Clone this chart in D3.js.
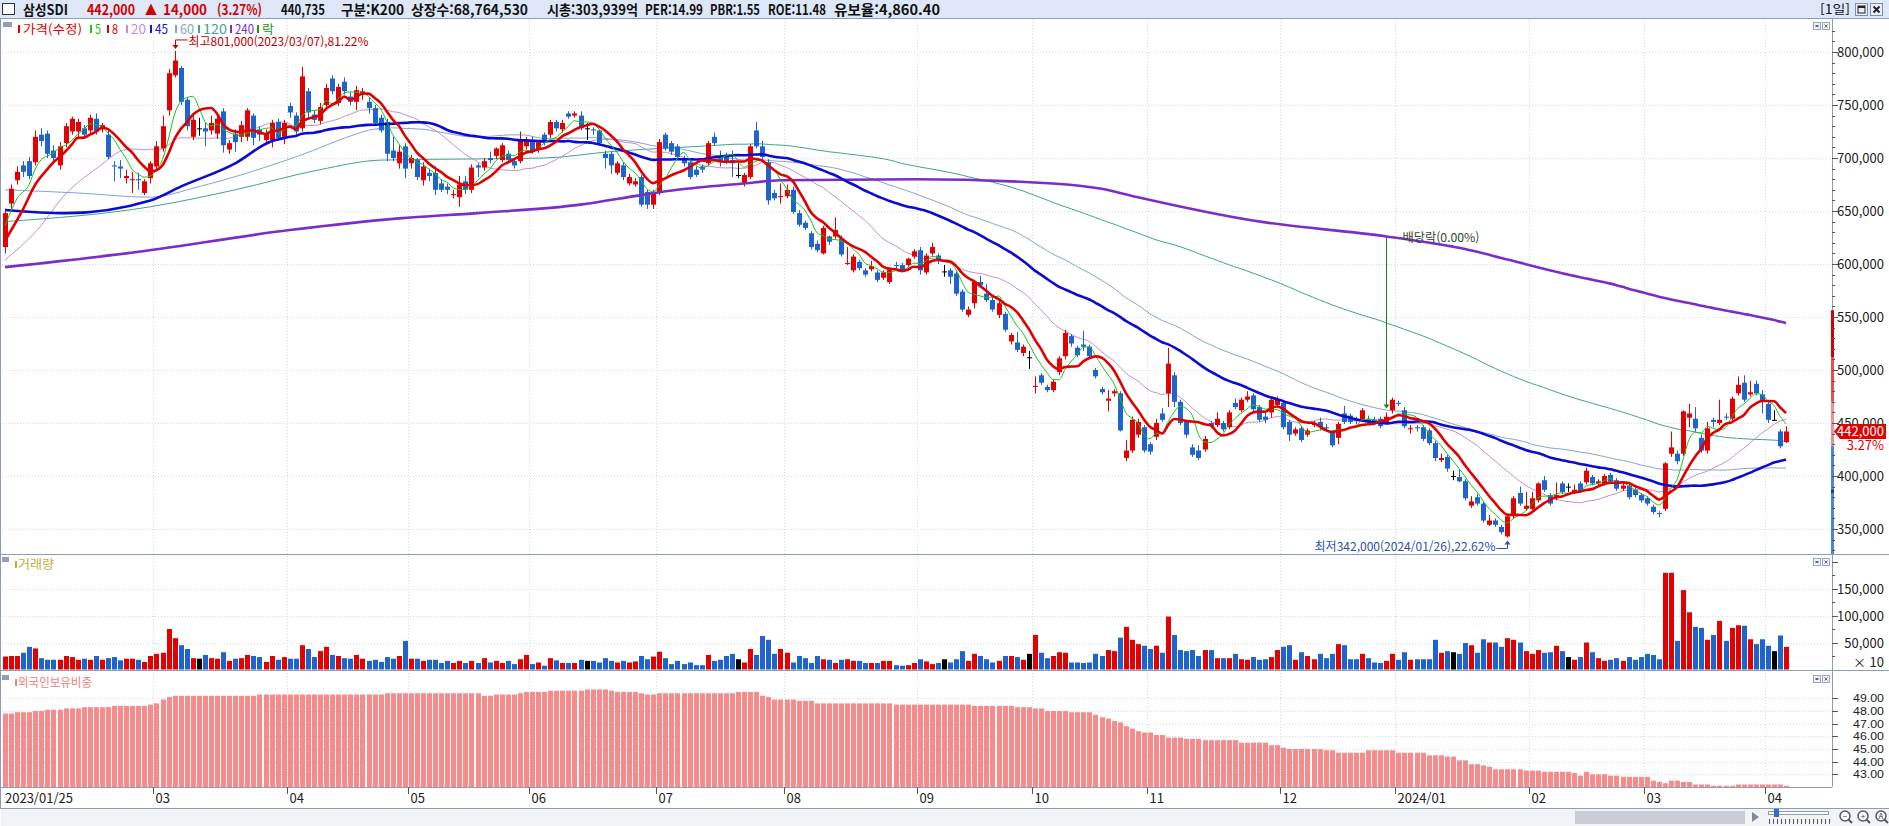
<!DOCTYPE html>
<html lang="ko">
<head>
<meta charset="UTF-8">
<title>삼성SDI 일봉</title>
<script src="https://cdn.jsdelivr.net/npm/d3@7/dist/d3.min.js"></script>
<style>
  html, body { margin: 0; padding: 0; background: #fff; overflow: hidden; }
  svg { display: block; font-family: "Noto Sans CJK KR", "Noto Sans", "DejaVu Sans", sans-serif; }
</style>
</head>
<body>
<svg id="chart" width="1889" height="826"></svg>
<script>
// ---------- data (prices in 1,000 KRW) ----------
const tickIdx    = [0, 25, 47, 67, 87, 108, 129, 151, 170, 189, 211, 230, 252, 271, 291];
const tickLabels = ["2023/01/25", "03", "04", "05", "06", "07", "08", "09", "10", "11", "12", "2024/01", "02", "03", "04"];

const opens = [
  616,657,679,693,697,696,722,723,707,693, 714,725,725,728,726,737,727,722,693,692,
  681,679,680,667,681,692,709,745,778,785, 755,720,728,728,726,723,744,708,723,720,
  720,740,727,717,717,734,720,749,740,728, 763,741,735,750,775,752,772,758,753,760,
  753,747,738,734,707,695,711,695,698,679, 686,686,676,673,665,663,678,670,693,691,
  700,702,698,704,697,697,711,717,708,722, 722,734,727,742,740,740,728,727,726,704,
  704,686,693,676,675,682,668,656,668,722, 714,711,700,696,689,692,695,720,701,702,
  698,684,676,682,726,711,696,667,663,664, 670,648,639,629,619,610,626,626,624,600,
  594,602,594,595,592,587,583,599,599,599, 607,613,592,610,608,593,594,591,574,552,
  563,583,572,566,552,553,527,526,516,512, 484,495,484,481,498,513,532,521,524,522,
  500,482,471,478,478,417,424,439,446,430, 437,459,478,495,470,451,427,424,425,450,
  448,450,446,469,462,472,476,465,456,460, 467,469,451,440,445,439,448,451,446,441,
  436,459,457,453,453,454,453,454,451,462, 469,462,444,446,446,443,431,415,418,400,
  399,395,372,380,374,354,358,352,343,362, 384,369,369,377,396,382,379,393,390,385,
  393,394,399,393,393,401,396,388,391,387, 382,379,371,365,369,421,421,421,455,454,
  436,424,453,450,456,454,478,488,477,487, 477,468,453,442,432
];
const highs = [
  652,675,692,697,701,726,728,726,712,715, 733,739,737,731,741,742,733,726,697,698,
  689,687,686,680,697,716,740,784,801,787, 757,741,738,733,740,740,747,717,727,735,
  747,742,730,727,736,737,736,752,743,786, 766,745,752,770,778,770,776,762,768,766,
  757,750,741,737,720,712,714,703,700,696, 690,692,680,676,670,683,683,694,695,700,
  706,710,714,707,700,725,720,720,717,724, 736,736,736,744,744,744,733,729,727,707,
  706,697,696,685,681,684,670,670,718,724, 716,713,702,698,692,694,716,724,707,705,
  707,695,686,713,734,716,699,670,676,675, 673,651,641,631,622,636,627,644,627,616,
  609,604,596,603,594,594,597,602,601,606, 614,616,610,620,610,599,596,593,576,560,
  585,589,581,568,565,555,535,536,524,518, 494,497,486,491,513,538,534,523,537,524,
  502,484,481,482,480,434,456,454,448,432, 454,464,521,498,472,453,430,429,438,452,
  460,452,462,473,474,480,478,467,460,474, 475,471,453,446,447,445,452,455,449,443,
  451,466,459,456,464,457,456,456,460,474, 471,465,448,448,448,445,433,421,420,405,
  406,397,381,383,376,363,360,354,363,381, 390,385,385,394,400,384,394,395,393,392,
  395,408,401,397,402,403,398,393,393,389, 384,381,373,367,413,442,424,462,468,465,
  439,451,455,472,459,475,494,495,490,490, 481,470,462,444,447
];
const lows = [
  610,650,675,682,680,693,711,700,697,689, 710,722,720,718,722,722,724,699,678,681,
  676,667,670,665,676,689,706,740,776,750, 726,717,721,711,722,718,705,704,706,715,
  716,712,716,713,710,716,713,738,720,725, 738,733,732,745,760,749,760,750,745,755,
  742,730,724,697,697,690,681,690,679,674, 678,665,668,666,662,654,666,667,682,688,
  695,699,696,696,690,695,708,704,705,712, 719,725,724,737,738,726,717,722,712,690,
  685,684,679,674,673,654,652,652,665,707, 703,698,692,680,682,686,693,712,692,694,
  682,681,673,680,709,698,656,660,657,662, 647,635,632,614,611,609,618,624,607,599,
  592,594,588,593,583,585,581,596,592,597, 605,590,590,608,600,588,581,570,555,550,
  558,578,564,555,549,536,524,517,513,501, 478,486,479,479,495,510,522,512,518,511,
  492,477,461,475,442,414,422,436,422,420, 434,451,465,465,448,436,418,415,423,445,
  446,442,444,463,460,470,460,451,450,455, 465,444,433,438,432,437,446,443,442,427,
  430,449,449,449,451,449,448,445,449,459, 466,445,440,442,433,429,414,413,404,396,
  394,377,370,372,356,353,352,345,342,360, 372,367,367,375,385,372,377,383,385,383,
  384,392,391,391,391,393,386,386,378,380, 375,372,364,361,367,418,411,419,446,442,
  422,421,446,448,453,452,476,470,475,476, 459,450,452,426,431
];
const closes = [
  648,671,687,687,683,720,716,704,700,711, 730,737,734,722,738,725,731,701,692,690,
  683,680,679,678,695,711,730,780,792,753, 730,736,728,725,733,737,712,714,715,731,
  745,719,722,723,733,719,733,743,725,777, 743,736,748,766,763,767,763,753,764,763,
  747,733,726,704,700,706,690,700,682,692, 683,670,670,670,666,675,670,691,691,697,
  698,709,712,698,693,717,717,706,715,715, 734,728,733,739,742,728,728,726,714,700,
  693,695,682,682,678,656,656,668,715,709, 706,701,695,682,684,689,714,714,697,697,
  695,684,684,711,711,701,660,662,664,670, 649,637,634,616,613,634,621,632,609,601,
  607,596,590,598,585,592,595,598,594,605, 612,594,608,616,603,593,588,572,557,557,
  583,580,566,557,563,538,533,519,522,512, 485,488,481,489,511,535,525,514,522,513,
  494,479,473,480,443,424,453,451,424,423, 450,453,506,470,450,439,420,417,435,447,
  454,444,460,465,472,475,463,453,453,472, 472,446,439,444,434,443,450,446,445,429,
  449,451,451,452,462,451,450,447,456,472, 468,447,445,445,435,431,417,417,407,400,
  395,379,376,374,358,358,354,347,362,379, 374,372,379,393,387,374,382,385,390,387,
  385,405,393,395,400,395,388,391,380,382, 377,374,366,364,412,427,414,461,459,445,
  424,445,451,453,455,473,486,472,479,478, 470,453,453,428,442
];
// volume, in thousands of the axis unit (axis shows x10 shares)
const volumes = [
  24,25,25,31,42,39,21,18,18,18, 25,23,18,20,18,25,18,21,23,17,
  20,20,18,14,25,29,31,75,58,45, 38,21,20,27,21,20,32,16,20,21,
  27,25,23,14,25,18,23,20,20,45, 38,23,34,42,27,25,21,20,27,20,
  16,18,14,23,20,25,53,20,20,16, 18,18,12,16,12,16,12,16,12,21,
  13,16,12,16,10,19,27,10,13,7,  21,17,12,12,12,18,16,16,13,21,
  16,13,16,13,15,25,19,24,33,21, 10,16,10,13,8,8,27,16,18,25,
  29,19,13,38,27,62,55,29,38,31, 13,25,21,12,25,19,18,12,18,19,
  16,16,12,12,12,16,16,8,7,8,    12,19,15,10,12,19,13,19,34,16,
  29,25,19,13,16,25,25,23,18,29, 64,31,21,25,32,31,13,13,12,13,
  29,25,36,34,59,79,55,47,44,38, 44,31,98,64,36,34,36,25,36,36,
  21,21,21,29,19,18,23,18,19,23, 36,42,45,18,32,25,19,29,21,29,
  47,45,19,19,29,21,13,12,16,29, 18,32,18,19,19,19,55,31,34,32,
  29,49,45,31,56,50,50,42,58,55, 50,34,29,36,31,32,44,34,23,18,
  23,50,32,21,16,18,21,16,23,18, 23,29,27,19,179,179,53,147,106,79,
  77,55,64,90,53,77,82,81,56,47, 56,44,34,63,42
];
// foreign ownership ratio, %
const foreign = [
  47.8,47.8,47.9,47.9,47.9,48.0,48.0,48.1,48.1,48.1, 48.2,48.2,48.2,48.3,48.3,48.3,48.3,48.3,48.4,48.4,
  48.4,48.4,48.4,48.4,48.5,48.6,48.9,49.1,49.2,49.2, 49.2,49.2,49.2,49.2,49.2,49.2,49.2,49.2,49.2,49.2,
  49.2,49.2,49.3,49.3,49.3,49.3,49.3,49.3,49.3,49.3, 49.3,49.3,49.3,49.3,49.3,49.3,49.3,49.3,49.3,49.3,
  49.3,49.3,49.3,49.4,49.4,49.4,49.4,49.4,49.4,49.4, 49.4,49.4,49.4,49.4,49.4,49.4,49.4,49.4,49.4,49.2,
  49.2,49.3,49.3,49.3,49.3,49.4,49.5,49.5,49.5,49.5, 49.6,49.6,49.6,49.6,49.6,49.6,49.7,49.7,49.7,49.7,
  49.6,49.5,49.5,49.5,49.5,49.4,49.3,49.3,49.4,49.4, 49.4,49.4,49.4,49.4,49.4,49.4,49.4,49.4,49.4,49.4,
  49.4,49.5,49.5,49.5,49.5,49.2,49.1,48.9,48.9,48.9, 48.9,48.8,48.8,48.8,48.6,48.6,48.6,48.6,48.6,48.6,
  48.6,48.6,48.6,48.6,48.6,48.6,48.6,48.5,48.5,48.5, 48.5,48.5,48.5,48.5,48.5,48.5,48.5,48.5,48.5,48.5,
  48.4,48.4,48.4,48.4,48.4,48.4,48.4,48.3,48.3,48.3, 48.2,48.2,48.0,48.0,48.0,48.0,47.9,47.9,47.9,47.9,
  47.7,47.5,47.4,47.2,47.1,46.8,46.6,46.4,46.3,46.3, 46.1,46.1,45.9,45.9,45.9,45.8,45.8,45.8,45.7,45.7,
  45.7,45.7,45.7,45.7,45.5,45.5,45.5,45.5,45.5,45.3, 45.3,45.1,45.0,45.0,45.0,45.0,45.0,45.0,44.9,44.9,
  44.7,44.7,44.7,44.7,44.7,44.9,44.9,44.9,44.9,44.9, 44.7,44.7,44.7,44.7,44.7,44.5,44.5,44.5,44.4,44.4,
  44.1,44.1,43.8,43.8,43.7,43.6,43.4,43.4,43.4,43.4, 43.4,43.3,43.3,43.3,43.2,43.2,43.2,43.2,43.2,43.1,
  42.9,43.2,43.0,43.0,43.0,42.9,42.9,42.8,42.8,42.8, 42.8,42.8,42.5,42.4,42.3,42.5,42.5,42.4,42.4,42.2,
  42.2,42.2,42.1,42.1,42.1,42.1,42.2,42.2,42.2,42.2, 42.2,42.2,42.2,42.2,42.1
];
const ma5Head   = [[0, 636], [2, 662]];
const ma8Head   = [[0, 622], [3, 652], [5, 675]];
const ma20Head  = [[0, 604], [5, 630], [10, 666], [16, 694]];
const ma45Head  = [[0, 651], [10, 648], [24, 660], [29, 673], [38, 695]];
const ma60Head  = [[0, 670], [12, 667], [24, 663], [32, 673], [48, 701]];
const ma120Head = [[0, 640], [24, 654], [38, 670], [52, 689], [62, 698], [89, 700], [100, 706]];
const ma240Head = [[0, 597], [20, 610], [47, 632], [65, 643], [78, 648], [95, 656], [105, 665], [111, 670],
                   [122, 676], [128, 679], [150, 680], [173, 676], [181, 671], [187, 663], [206, 641], [228, 626]];

const priceTicks   = [350000, 400000, 450000, 500000, 550000, 600000, 650000, 700000, 750000, 800000];
const volTicks     = [50000, 100000, 150000];
const foreignTicks = [43, 44, 45, 46, 47, 48, 49];

const headerTexts = ["삼성SDI", "442,000", "▲", "14,000", "(3.27%)", "440,735", "구분:K200",
                     "상장수:68,764,530", "시총:303,939억", "PER:14.99", "PBR:1.55", "ROE:11.48", "유보율:4,860.40"];
const legendTexts = ["가격(수정)", "5", "8", "20", "45", "60", "120", "240", "락"];
const exDivIdx = 228;
const prevClose = 428000, upperLimit = 556400;

// ---------- layout ----------
const RED = "#e20000", BLUE = "#1f63cc", GRID = "#d6d9de", FRAME = "#8d9db8";
const NUMFONT = "'Liberation Sans', 'DejaVu Sans', sans-serif";
const plotR = 1832;
const pTop = 19, pBot = 554, vTop = 555, vBot = 670, fTop = 671, fBot = 787;

const svg = d3.select("#chart");
const n = closes.length;
const x = d3.scaleBand().domain(d3.range(n)).range([2, 2 + n * 6.058]);
const cx = i => x(i) + x.bandwidth() / 2;
const px = i => Math.round(cx(i));
const y  = d3.scaleLinear().domain([350000, 800000]).range([529, 52]);
const yv = d3.scaleLinear().domain([0, 150000]).range([669.5, 588.5]);
const yf = d3.scaleLinear().domain([42, 49]).range([787, 698.3]);
const fmt = d3.format(",");

const defs = svg.append("defs");
[["clipP", pTop, pBot], ["clipV", vTop, vBot], ["clipF", fTop, fBot]].forEach(([id, t, b]) => {
  defs.append("clipPath").attr("id", id).append("rect")
    .attr("x", 1).attr("y", t).attr("width", plotR - 1).attr("height", b - t);
});

svg.append("rect").attr("width", 1889).attr("height", 826).attr("fill", "#fff");

// header bar
svg.append("rect").attr("x", 0).attr("y", 0).attr("width", 1889).attr("height", 18).attr("fill", "#dde7f7");
svg.append("line").attr("x1", 0).attr("x2", 1889).attr("y1", 18.5).attr("y2", 18.5).attr("stroke", FRAME);
svg.append("rect").attr("x", 2.5).attr("y", 3.5).attr("width", 12).attr("height", 11)
  .attr("fill", "#fff").attr("stroke", "#333");
const headX = [23, 87, 145, 163, 217, 281, 341, 411, 547, 645, 710, 768, 834];
const headW = [45, 48, 12, 44, 45, 44, 63, 117, 91, 58, 50, 58, 106];
headerTexts.forEach((t, k) => {
  svg.append("text").attr("x", headX[k]).attr("y", 15).attr("font-size", 14).attr("font-weight", "bold")
    .attr("fill", k >= 1 && k <= 4 ? "#d00000" : "#111")
    .attr("textLength", headW[k]).attr("lengthAdjust", "spacingAndGlyphs").text(t);
});
svg.append("text").attr("x", 1820).attr("y", 14).attr("font-size", 12.5).attr("fill", "#111")
  .attr("textLength", 30).attr("lengthAdjust", "spacingAndGlyphs").text("[1일]");
[1855, 1870].forEach((bx, k) => {
  svg.append("rect").attr("x", bx + 0.5).attr("y", 3.5).attr("width", 12).attr("height", 12)
    .attr("fill", "#e9eef8").attr("stroke", "#7d90b0");
  if (k === 0) {
    svg.append("rect").attr("x", bx + 3).attr("y", 6).attr("width", 7).attr("height", 7)
      .attr("fill", "none").attr("stroke", "#222").attr("stroke-width", 1);
    svg.append("rect").attr("x", bx + 3).attr("y", 6).attr("width", 7).attr("height", 2).attr("fill", "#222");
  } else {
    svg.append("path").attr("d", `M${bx + 3.5},6.5L${bx + 9.5},12.5M${bx + 9.5},6.5L${bx + 3.5},12.5`)
      .attr("stroke", "#222").attr("stroke-width", 2);
  }
});

// grid
const grid = svg.append("g").attr("stroke", GRID).attr("stroke-dasharray", "1,2");
tickIdx.slice(1).forEach(i => {
  grid.append("line").attr("x1", px(i) - 2.5).attr("x2", px(i) - 2.5).attr("y1", pTop).attr("y2", fBot);
});
priceTicks.forEach(v => grid.append("line").attr("x1", 2).attr("x2", plotR).attr("y1", Math.round(y(v)) + 0.5).attr("y2", Math.round(y(v)) + 0.5));
volTicks.forEach(v => grid.append("line").attr("x1", 2).attr("x2", plotR).attr("y1", Math.round(yv(v)) + 0.5).attr("y2", Math.round(yv(v)) + 0.5));
foreignTicks.forEach(v => grid.append("line").attr("x1", 2).attr("x2", plotR).attr("y1", Math.round(yf(v)) + 0.5).attr("y2", Math.round(yf(v)) + 0.5));

// moving averages
function maSeries(period, head) {
  const pts = head.filter(d => d[0] < period - 1).map(d => [d[0], d[1]]);
  for (let i = period - 1; i < n; i++) pts.push([i, d3.mean(closes.slice(i - period + 1, i + 1))]);
  return pts;
}
const maLine = d3.line().x(d => cx(d[0])).y(d => y(d[1] * 1000)).curve(d3.curveMonotoneX);
const gP = svg.append("g").attr("clip-path", "url(#clipP)");
function drawMA(period, head, color, width) {
  gP.append("path").attr("d", maLine(maSeries(period, head)))
    .attr("fill", "none").attr("stroke", color).attr("stroke-width", width).attr("stroke-linejoin", "round");
}
drawMA(120, ma120Head, "#3fa38b", 1);
drawMA(60, ma60Head, "#86a2d0", 1);
drawMA(20, ma20Head, "#c98bc9", 1);

// candles
const cColor = i => closes[i] > opens[i] ? RED : closes[i] < opens[i] ? BLUE : "#000";
const idx = d3.range(n);
gP.selectAll("line.wick").data(idx).join("line").attr("class", "wick")
  .attr("x1", i => px(i) + 0.5).attr("x2", i => px(i) + 0.5)
  .attr("y1", i => y(highs[i] * 1000)).attr("y2", i => y(lows[i] * 1000))
  .attr("stroke", cColor).attr("stroke-width", 1);
gP.selectAll("rect.body").data(idx).join("rect").attr("class", "body")
  .attr("x", i => px(i) - 2).attr("width", 5)
  .attr("y", i => y(Math.max(opens[i], closes[i]) * 1000))
  .attr("height", i => Math.max(1, y(Math.min(opens[i], closes[i]) * 1000) - y(Math.max(opens[i], closes[i]) * 1000)))
  .attr("fill", cColor);

drawMA(240, ma240Head, "#7b2dc9", 2.6);
drawMA(45, ma45Head, "#0b0bd2", 2.6);
drawMA(5, ma5Head, "#19c419", 1);
drawMA(8, ma8Head, "#e00000", 2.6);

// volume
svg.append("g").attr("clip-path", "url(#clipV)").selectAll("rect").data(idx).join("rect")
  .attr("x", i => px(i) - 2).attr("width", 5)
  .attr("y", i => yv(volumes[i] * 1000)).attr("height", i => yv(0) - yv(volumes[i] * 1000))
  .attr("fill", cColor);

// foreign ownership
svg.append("g").attr("clip-path", "url(#clipF)").selectAll("rect").data(idx).join("rect")
  .attr("x", i => px(i) - 2).attr("width", 5)
  .attr("y", i => yf(foreign[i])).attr("height", i => yf(42) - yf(foreign[i]))
  .attr("fill", "#f78b8b");

// frame
const frame = svg.append("g").attr("stroke", FRAME).attr("fill", "none");
frame.append("line").attr("x1", 0.5).attr("x2", 0.5).attr("y1", 18).attr("y2", 808);
frame.append("line").attr("x1", plotR + 0.5).attr("x2", plotR + 0.5).attr("y1", 18).attr("y2", fBot);
frame.append("line").attr("x1", 0).attr("x2", 1889).attr("y1", pBot + 0.5).attr("y2", pBot + 0.5);
frame.append("line").attr("x1", 0).attr("x2", 1889).attr("y1", vBot + 0.5).attr("y2", vBot + 0.5);
frame.append("line").attr("x1", 0).attr("x2", plotR).attr("y1", fBot + 0.5).attr("y2", fBot + 0.5);
frame.append("line").attr("x1", 0).attr("x2", 1889).attr("y1", 808.5).attr("y2", 808.5);

// price limit bar on the axis
const limBar = [[upperLimit, 512000, "#d40000"], [512000, 470000, "#e45050"], [470000, prevClose, "#f09090"], [prevClose, 300000, "#4a86d4"]];
defs.append("clipPath").attr("id", "clipAxis").append("rect").attr("x", 1820).attr("y", pTop).attr("width", 30).attr("height", pBot - pTop);
const gAx = svg.append("g").attr("clip-path", "url(#clipAxis)");
limBar.forEach(([a, b, c]) => gAx.append("rect").attr("x", plotR - 1).attr("width", 3)
  .attr("y", y(a)).attr("height", y(b) - y(a)).attr("fill", c));
gAx.append("rect").attr("x", plotR - 1).attr("width", 3).attr("y", y(387000)).attr("height", 3).attr("fill", "#123a9a");

// axes
const axT = svg.append("g").attr("font-size", 13).attr("fill", "#222").attr("text-anchor", "end");
const axL = svg.append("g").attr("stroke", "#555");
for (let v = 320000; v <= 820000; v += 10000) {
  const yy = Math.round(y(v)) + 0.5;
  if (yy < pTop + 2 || yy > pBot - 1) continue;
  axL.append("line").attr("x1", plotR).attr("x2", plotR + (v % 50000 === 0 ? 6 : 3)).attr("y1", yy).attr("y2", yy);
}
priceTicks.forEach(v => axT.append("text").attr("x", 1884).attr("y", y(v) + 5).text(fmt(v)));
for (let v = 0; v <= 200000; v += 25000) {
  const yy = Math.round(yv(v)) + 0.5;
  if (yy < vTop + 2 || yy > vBot - 1) continue;
  axL.append("line").attr("x1", plotR).attr("x2", plotR + (v % 50000 === 0 ? 6 : 3)).attr("y1", yy).attr("y2", yy);
}
volTicks.forEach(v => axT.append("text").attr("x", 1884).attr("y", yv(v) + 5).text(fmt(v)));
axT.append("text").attr("x", 1884).attr("y", 667).text("× 10");
foreignTicks.forEach(v => {
  const yy = Math.round(yf(v)) + 0.5;
  axL.append("line").attr("x1", plotR).attr("x2", plotR + 6).attr("y1", yy).attr("y2", yy);
  axT.append("text").attr("x", 1884).attr("y", yf(v) + 4).attr("font-family", NUMFONT).attr("font-size", 11)
    .attr("textLength", 31).attr("lengthAdjust", "spacingAndGlyphs").text(v.toFixed(2));
});

// x axis
tickIdx.forEach((i, k) => {
  const tx = k === 0 ? 3 : px(i) - 2.5;
  if (k > 0) svg.append("line").attr("x1", tx).attr("x2", tx).attr("y1", fBot).attr("y2", fBot + 7).attr("stroke", "#555");
  svg.append("text").attr("x", tx + 2).attr("y", 803).attr("font-size", 13).attr("fill", "#222").text(tickLabels[k]);
});

// current price tag
const yc = y(closes[n - 1] * 1000);
svg.append("path").attr("d", `M${plotR + 2},${yc}L${plotR + 8},${yc - 7.5}L1886,${yc - 7.5}L1886,${yc + 7.5}L${plotR + 8},${yc + 7.5}Z`)
  .attr("fill", RED);
svg.append("text").attr("x", 1884).attr("y", yc + 5).attr("font-size", 13).attr("fill", "#fff")
  .attr("text-anchor", "end").text(fmt(closes[n - 1] * 1000));
svg.append("text").attr("x", 1884).attr("y", yc + 19).attr("font-size", 13).attr("fill", RED)
  .attr("text-anchor", "end").text("3.27%");

// legends
svg.append("rect").attr("x", 3).attr("y", 22).attr("width", 9).attr("height", 5).attr("fill", "#8fa0b8");
const legX = [18, 90, 107, 126, 150, 175, 198, 230, 257];
const legW = [59, 6, 6, 15, 13, 14, 24, 19, 12];
const legC = [RED, "#19c419", "#e00000", "#c98bc9", "#1414c8", "#86a2d0", "#3fa38b", "#7b2dc9", "#119911"];
legendTexts.forEach((t, k) => {
  svg.append("rect").attr("x", legX[k]).attr("y", 25).attr("width", 2).attr("height", 8).attr("fill", legC[k]);
  svg.append("text").attr("x", legX[k] + 5).attr("y", 34).attr("font-size", 12.5).attr("fill", legC[k])
    .attr("textLength", legW[k]).attr("lengthAdjust", "spacingAndGlyphs").text(t);
});
[[vTop + 2, "거래량", "#c2ad3c", 36], [fTop + 4, "외국인보유비중", "#ee8080", 74]].forEach(([ty, t, c, w]) => {
  svg.append("rect").attr("x", 2).attr("y", ty).attr("width", 7).attr("height", 5).attr("fill", "#8fa0b8");
  svg.append("rect").attr("x", 15).attr("y", ty + 4).attr("width", 2).attr("height", 7).attr("fill", c);
  svg.append("text").attr("x", 18).attr("y", ty + 12).attr("font-size", 12).attr("fill", c)
    .attr("textLength", w).attr("lengthAdjust", "spacingAndGlyphs").text(t);
});

// panel buttons
[pTop + 3, vTop + 3, fTop + 4].forEach(by => {
  svg.append("rect").attr("x", 1813.5).attr("y", by + 0.5).attr("width", 7).attr("height", 7).attr("fill", "#eef1f6").attr("stroke", "#9aa6b8");
  svg.append("rect").attr("x", 1815.5).attr("y", by + 3).attr("width", 3).attr("height", 2).attr("fill", "#667");
  svg.append("rect").attr("x", 1822.5).attr("y", by + 0.5).attr("width", 7).attr("height", 7).attr("fill", "#eef1f6").attr("stroke", "#9aa6b8");
  svg.append("path").attr("d", `M1824.5,${by + 2.5}L1827.5,${by + 5.5}M1827.5,${by + 2.5}L1824.5,${by + 5.5}`).attr("stroke", "#667");
});

// annotations: high, low, ex-dividend
const hi = d3.maxIndex(highs), lo = d3.minIndex(lows);
const hx = px(hi) + 0.5, hy = y(highs[hi] * 1000);
svg.append("path").attr("d", `M${hx + 12},${hy - 11}L${hx},${hy - 11}L${hx},${hy - 4}`).attr("fill", "none").attr("stroke", "#c00000");
svg.append("path").attr("d", `M${hx - 3},${hy - 6}L${hx + 3},${hy - 6}L${hx},${hy - 2}Z`).attr("fill", "#c00000");
svg.append("text").attr("x", hx + 13).attr("y", hy - 5).attr("font-size", 12).attr("fill", "#c00000")
  .attr("textLength", 180).attr("lengthAdjust", "spacingAndGlyphs")
  .text(`최고${fmt(highs[hi] * 1000)}(2023/03/07),81.22%`);

const lx = px(lo) + 0.5, ly = y(lows[lo] * 1000);
svg.append("path").attr("d", `M${lx - 11},${ly + 11}L${lx},${ly + 11}L${lx},${ly + 5}`).attr("fill", "none").attr("stroke", "#2a4fae");
svg.append("path").attr("d", `M${lx - 3},${ly + 7}L${lx + 3},${ly + 7}L${lx},${ly + 3}Z`).attr("fill", "#2a4fae");
svg.append("text").attr("x", lx - 12).attr("y", ly + 14).attr("font-size", 12).attr("fill", "#2a4fae")
  .attr("text-anchor", "end").attr("textLength", 181).attr("lengthAdjust", "spacingAndGlyphs")
  .text(`최저${fmt(lows[lo] * 1000)}(2024/01/26),22.62%`);

const ex = px(exDivIdx) + 0.5, ey = y(highs[exDivIdx] * 1000);
svg.append("line").attr("x1", ex).attr("x2", ex).attr("y1", 237).attr("y2", ey - 7).attr("stroke", "#118811");
svg.append("path").attr("d", `M${ex - 3},${ey - 8}L${ex + 3},${ey - 8}L${ex},${ey - 4}Z`).attr("fill", "#118811");
svg.append("text").attr("x", ex + 16).attr("y", 242).attr("font-size", 12).attr("fill", "#2b4a2b")
  .attr("textLength", 77).attr("lengthAdjust", "spacingAndGlyphs").text("배당락(0.00%)");

// bottom scroll strip
svg.append("rect").attr("x", 1).attr("y", 809).attr("width", 1888).attr("height", 17).attr("fill", "#f1f3f7");
svg.append("rect").attr("x", 1575).attr("y", 811).attr("width", 170).attr("height", 13).attr("fill", "#c8ccd4");
svg.append("path").attr("d", "M1752,812L1759,817L1752,822Z").attr("fill", "#7b8ba3");
svg.append("rect").attr("x", 1768.5).attr("y", 811.5).attr("width", 60).attr("height", 3).attr("fill", "#fff").attr("stroke", "#8d9db8");
svg.append("rect").attr("x", 1774).attr("y", 809).attr("width", 5).attr("height", 8).attr("fill", "#2a6fd0");
for (let t = 1769; t <= 1829; t += 4) svg.append("line").attr("x1", t + 0.5).attr("x2", t + 0.5).attr("y1", 819).attr("y2", 824).attr("stroke", "#556");
["−", "+", "A"].forEach((s, k) => {
  const zx = 1845 + k * 18;
  svg.append("circle").attr("cx", zx).attr("cy", 816).attr("r", 5).attr("fill", "#fff").attr("stroke", "#556").attr("stroke-width", 1.5);
  svg.append("line").attr("x1", zx + 3.5).attr("y1", 819.5).attr("x2", zx + 7).attr("y2", 823).attr("stroke", "#556").attr("stroke-width", 2);
  svg.append("text").attr("x", zx).attr("y", 819).attr("font-size", 8).attr("text-anchor", "middle").attr("fill", "#334").text(s);
});
</script>
</body>
</html>
